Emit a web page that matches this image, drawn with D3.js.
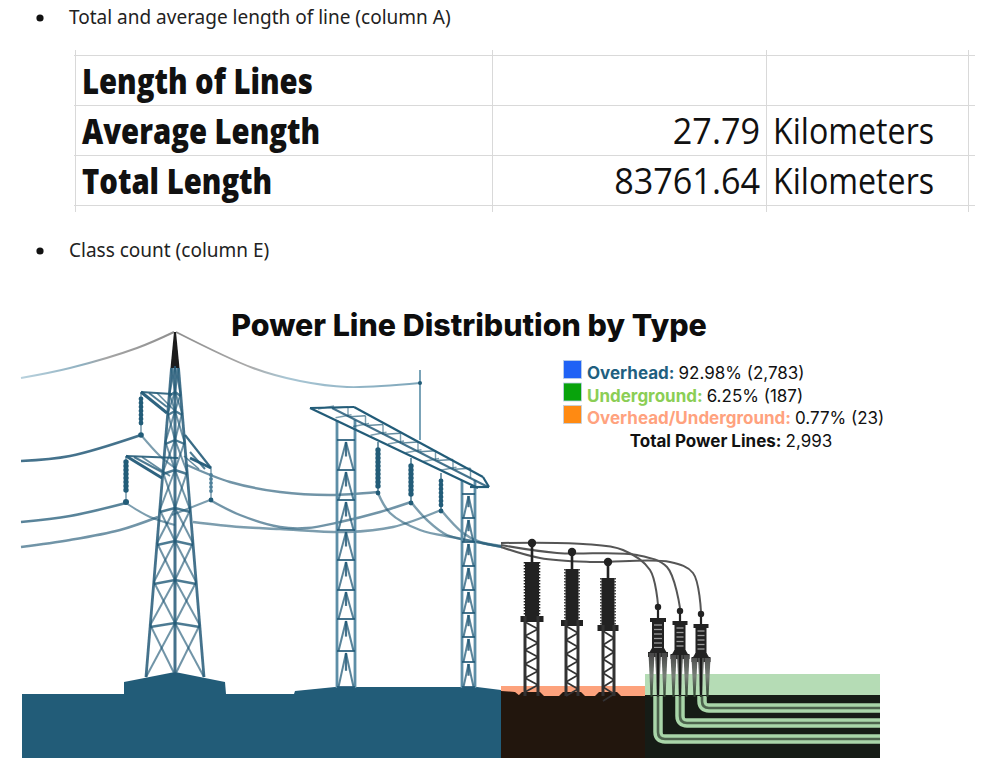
<!DOCTYPE html>
<html>
<head>
<meta charset="utf-8">
<title>Power Line Distribution by Type</title>
<script src="https://cdn.jsdelivr.net/npm/d3@7"></script>
<style>
    html, body { margin: 0; background: #fff; }
    svg { display: block; }
</style>
</head>
<body>
<div id="chart"></div>
<script>
// values
const bulletNotes = ["Total and average length of line (column A)", "Class count (column E)"];
const tableLabels = ["Length of Lines", "Average Length", "Total Length"];
const tableValues = ["", "27.79", "83761.64"];
const tableUnits = ["", "Kilometers", "Kilometers"];

const chartTitle = "Power Line Distribution by Type";
const lineTypes = ["Overhead", "Underground", "Overhead/Underground"];
const typePercents = [92.98, 6.25, 0.77];
const typeCounts = [2783, 187, 23];
const totalLines = 2993;
const totalLabel = "Total Power Lines";

const swatchColors = ["#1f62f5", "#08a30c", "#ff8a12"];
const labelColors = ["#1f5f7f", "#8bce55", "#ffa27e"];

const WIDTH = 986;
const HEIGHT = 773;
const BLUE = "#235b78";
const DARK = "#222222";

const svg = d3.select("#chart")
    .append("svg")
    .attr("width", WIDTH)
    .attr("height", HEIGHT)
    .attr("viewBox", `0 0 ${WIDTH} ${HEIGHT}`);

const defs = svg.append("defs");

// source picture is a soft screenshot
defs.append("filter").attr("id", "soft")
    .attr("x", "-5%").attr("y", "-5%").attr("width", "110%").attr("height", "110%")
    .append("feGaussianBlur").attr("stdDeviation", 0.55);

const addGradient = (id, x1, y1, x2, y2, stops) => {
    const g = defs.append("linearGradient").attr("id", id)
        .attr("gradientUnits", "userSpaceOnUse")
        .attr("x1", x1).attr("y1", y1).attr("x2", x2).attr("y2", y2);
    stops.forEach(s => g.append("stop").attr("offset", s[0]).attr("stop-color", s[1]));
};
addGradient("wireLeft", 21, 0, 175, 0, [[0, "#b9d2de"], [0.4, "#8fb0c0"], [0.55, "#a5a5a5"], [1, "#8f8f8f"]]);
addGradient("wireRight", 177, 0, 420, 0, [[0, "#8f8f8f"], [0.3, "#aaaaaa"], [0.45, "#a9c6d4"], [1, "#7ea6ba"]]);
addGradient("fade", 0, 655, 0, 697, [[0, "#4a4a4a"], [0.5, "#777f77"], [1, "#2b3f2b"]]);

// ---------- text + table ----------
const textFont = "'Open Sans', sans-serif";

const noteY = d3.scaleOrdinal().domain(bulletNotes).range([24, 257]);
svg.selectAll(".note")
    .data(bulletNotes)
    .enter()
    .append("text")
    .attr("class", "note")
    .attr("x", 69)
    .attr("y", d => noteY(d))
    .attr("font-family", "'Noto Sans', sans-serif")
    .attr("font-size", 19)
    .attr("fill", "#222")
    .text(d => d);
svg.selectAll(".dot")
    .data(bulletNotes)
    .enter()
    .append("circle")
    .attr("class", "dot")
    .attr("cx", 40)
    .attr("cy", d => noteY(d) - 6)
    .attr("r", 3.6)
    .attr("fill", "#111");

const rowScale = d3.scaleBand()
    .domain(tableLabels)
    .range([55.5, 205.5]);

const table = svg.append("g").attr("class", "table");
const gridLine = (x1, y1, x2, y2) => table.append("line")
    .attr("x1", x1).attr("y1", y1).attr("x2", x2).attr("y2", y2)
    .attr("stroke", "#d9d9d9").attr("stroke-width", 1);

tableLabels.forEach(d => gridLine(74, rowScale(d), 975, rowScale(d)));
gridLine(74, 205.5, 975, 205.5);
[75.5, 492.5, 766.5, 968.5].forEach(x => gridLine(x, 50, x, 212));

// no narrow font is installed, so the cell text gets squeezed sideways
const rows = table.selectAll(".row")
    .data(tableLabels)
    .enter()
    .append("g")
    .attr("class", "row")
    .attr("transform", d => `translate(0,${rowScale(d) + 38})`)
    .attr("font-family", textFont)
    .attr("font-size", 36)
    .attr("fill", "#111");
rows.append("text")
    .attr("transform", "translate(82,0) scale(0.813,1)")
    .attr("font-weight", 800)
    .text(d => d);
rows.append("text")
    .attr("transform", "translate(760,0) scale(0.95,1)")
    .attr("text-anchor", "end")
    .text((d, i) => tableValues[i]);
rows.append("text")
    .attr("transform", "translate(773,0) scale(0.894,1)")
    .text((d, i) => tableUnits[i]);

// ---------- illustration ----------
const art = svg.append("g").attr("filter", "url(#soft)");

const smooth = d3.line().curve(d3.curveCatmullRom.alpha(0.5));
const wire = (points, color, width, opacity) => art.append("path")
    .attr("d", smooth(points))
    .attr("fill", "none")
    .attr("stroke", color)
    .attr("stroke-width", width)
    .attr("stroke-opacity", opacity === undefined ? 1 : opacity);
const poly = (points, color) => art.append("polygon")
    .attr("points", points.map(p => p.join(",")).join(" "))
    .attr("fill", color);
const seg = (x1, y1, x2, y2, color, width, opacity) => art.append("line")
    .attr("x1", x1).attr("y1", y1).attr("x2", x2).attr("y2", y2)
    .attr("stroke", color).attr("stroke-width", width)
    .attr("stroke-opacity", opacity === undefined ? 1 : opacity);
const box = (x, y, w, h, color) => art.append("rect")
    .attr("x", x).attr("y", y).attr("width", w).attr("height", h).attr("fill", color);
const node = (x, y, r, color) => art.append("circle")
    .attr("cx", x).attr("cy", y).attr("r", r).attr("fill", color);

// insulator string: stack of small beads
const beads = (x, y1, y2, color, r) => {
    d3.range(y1, y2, 4).forEach(y => node(x, y, r, color));
};

// ground blocks
poly([[22, 694], [124, 694], [124, 682], [175, 672], [225, 682], [226, 694], [294, 694], [295, 691],
      [335, 687], [477, 687], [501, 690], [501, 758], [22, 758]], BLUE);
box(501, 686, 144, 12, "#fda27c");
poly([[501, 691], [515, 692], [520, 696], [645, 696], [645, 758], [501, 758]], "#23130e");
[531, 572, 608].forEach(x => poly([[x - 14, 697], [x - 9, 692], [x + 9, 692], [x + 14, 697]], "#23130e"));
box(645, 674, 235, 22, "#b5dcb5");
box(645, 695, 235, 63, "#141b14");

// wires of the first tower and second tower
wire([[21, 378], [70, 368], [137, 348], [174, 332]], "url(#wireLeft)", 2);
wire([[176, 332], [253, 368], [300, 381], [347, 387], [420, 383]], "url(#wireRight)", 1.9);
wire([[21, 461], [70, 456], [141, 435]], BLUE, 2.6, 0.85);
wire([[141, 435], [160, 456], [175, 468]], BLUE, 2, 0.6);
wire([[187, 465], [230, 482], [280, 492], [330, 495], [378, 492]], BLUE, 2.4, 0.65);
wire([[21, 522], [70, 516], [126, 503]], BLUE, 2.6, 0.75);
wire([[126, 503], [150, 517], [175, 525]], BLUE, 2, 0.6);
wire([[172, 515], [210, 500]], BLUE, 2, 0.6);
wire([[210, 500], [240, 515], [280, 527], [307, 528], [340, 522], [380, 512], [411, 502]], BLUE, 2.4, 0.65);
wire([[21, 547], [70, 540], [120, 530], [158, 517]], BLUE, 2.6, 0.65);
wire([[193, 522], [240, 527], [280, 529], [347, 532], [393, 527], [441, 510]], BLUE, 2.4, 0.6);
wire([[378, 493], [390, 513], [420, 530], [457, 538], [502, 547]], BLUE, 2.4, 0.6);
wire([[411, 502], [427, 520], [447, 535], [477, 542], [502, 547]], BLUE, 2.4, 0.6);
wire([[441, 510], [463, 533], [480, 542], [502, 546]], BLUE, 2.4, 0.6);
seg(420, 370, 420, 440, "#6b99b0", 1.8);
node(420, 383, 2, BLUE);

// first tower, legs run from the neck down to the plinth
const towerX = 175;
const legOffset = y => 3.5 + (y - 368) * 25.5 / 309;
const panels = [368, 394, 413, 442, 472, 510, 543, 582, 625, 677];

poly([[towerX - 1, 332], [towerX + 1, 332], [towerX + 4.5, 368], [towerX - 4.5, 368]], "#1b1b1b");
[-1, 1].forEach(side => {
    seg(towerX + side * legOffset(368), 368, towerX + side * legOffset(677), 677, BLUE, 2.8, 0.85);
});
seg(towerX, 368, towerX, 672, BLUE, 3, 0.85);
panels.forEach((y, i) => {
    if (i === panels.length - 1) return;
    const next = panels[i + 1];
    [-1, 1].forEach(side => {
        const a = towerX + side * legOffset(y);
        const b = towerX + side * legOffset(next);
        seg(a, y, towerX, next - 2, BLUE, 2, 0.65);
        seg(towerX, y - 2, b, next, BLUE, 2, 0.65);
        if (i > 0) seg(a, y + 2, towerX, y - 2, BLUE, 2.4, 0.8);
    });
});

// cross arms, two rails to each tip plus a brace
const arms = [
    [[141, 392], [172, 394], [167, 413]],
    [[126, 456], [178, 458], [162, 478]],
    [[211, 468], [185, 435], [190, 458]]
];
arms.forEach(arm => {
    const tip = arm[0];
    const brace = tip[0] < towerX ? 8 : -6;
    seg(tip[0], tip[1], arm[1][0], arm[1][1], BLUE, 2.2, 0.9);
    seg(tip[0], tip[1], arm[2][0], arm[2][1], BLUE, 3, 0.95);
    seg(tip[0] + brace, tip[1] + 1, arm[2][0], arm[2][1] - 6, BLUE, 2, 0.8);
    seg(tip[0] + brace * 2, tip[1] + 1, arm[2][0] + brace, arm[2][1] - 2, BLUE, 1.6, 0.7);
});
seg(141, 392, 141, 433, BLUE, 1.2, 0.8);
beads(141, 399, 426, BLUE, 2.4);
node(141, 435, 2.8, BLUE);
seg(126, 456, 126, 500, BLUE, 1.2, 0.8);
beads(126, 462, 494, BLUE, 2.7);
node(126, 502, 3, BLUE);
seg(211, 468, 211, 498, BLUE, 1.2, 0.8);
beads(211, 475, 494, "#4d7f99", 1.9);
node(211, 500, 2.4, BLUE);

// second tower: two narrow columns under a slanted truss
const column = (x1, x2, top, rungs) => {
    const mid = (x1 + x2) / 2;
    seg(x1, top, x1, 688, "#5d8ea7", 2.8);
    seg(x2, top, x2, 688, "#5d8ea7", 2.8);
    rungs.forEach((y, i) => {
        seg(x1, y, x2, y, BLUE, 2, 0.85);
        if (i === rungs.length - 1) return;
        const next = rungs[i + 1];
        seg(x1 + 1.5, next, mid, y + 2, BLUE, 2, 0.75);
        seg(x2 - 1.5, next, mid, y + 2, BLUE, 2, 0.75);
        seg(mid, y + 2, mid, y + (next - y) * 0.55, BLUE, 2.2, 0.85);
    });
};
column(337, 355, 420, [440, 470, 500, 530, 560, 590, 619, 651, 687]);
column(462, 475, 480, [494, 518, 542, 566, 590, 613, 637, 662, 687]);

seg(310, 408, 478, 488, BLUE, 2.2);
seg(332, 408, 488, 487, BLUE, 2, 0.85);
seg(354, 407, 483, 477, BLUE, 2.2);
seg(310, 408, 354, 407, BLUE, 2.2);
seg(483, 477, 489, 487, BLUE, 2.2);
seg(470, 487, 489, 487, BLUE, 2.2);
d3.range(0, 8).forEach(i => {
    const t = i / 8;
    const ux = 332 + t * 140, uy = 408 + t * 70;
    seg(ux, uy, ux + 16, uy - 1, BLUE, 1.5, 0.7);
    seg(ux - 14, uy + 1, ux + 2, uy - 2, BLUE, 1.4, 0.6);
    seg(ux + 16, uy - 1, ux + 16, uy + 9, BLUE, 1.4, 0.6);
});

[[378, 442, 490, 2.7], [411, 458, 500, 2.7], [441, 473, 508, 2.4]].forEach(s => {
    seg(s[0], s[1], s[0], s[2] + 2, BLUE, 1.4, 0.9);
    beads(s[0], s[1] + 8, s[2] - 2, BLUE, s[3]);
    node(s[0], s[2] + 3, 2.4, BLUE);
});

// underground pipes, thick green with darker core
const pipe = (x, y) => {
    const p = `M${x},696 L${x},${y - 7} Q${x},${y} ${x + 7},${y} L880,${y}`;
    art.append("path").attr("d", p).attr("fill", "none").attr("stroke", "#a9d6a9").attr("stroke-width", 9.5);
    art.append("path").attr("d", p).attr("fill", "none").attr("stroke", "#4d644d").attr("stroke-width", 2.6);
};
pipe(658, 739);
pipe(680, 723);
pipe(702, 708);

// substation wires to the terminals
const cables = [
    [[501, 543], [583, 544], [623, 550], [650, 570], [658, 605]],
    [[501, 545], [557, 553], [637, 555], [667, 567], [680, 608]],
    [[501, 547], [540, 558], [590, 562], [670, 562], [693, 573], [701, 612]]
];
cables.forEach(c => wire(c, "#555555", 2));

// transformers on lattice stands
[[532, 543, 562, 616, 14, 23, 525, 538], [572, 552, 569, 620, 13, 22, 566, 578], [608, 562, 578, 625, 13, 21, 603, 614]]
    .forEach(t => {
        const [x, nodeY, top, bottom, w, flange, leg1, leg2] = t;
        seg(x, nodeY, x, top, DARK, 2.6);
        node(x, nodeY, 4.2, DARK);
        box(x - w / 2, top, w, bottom - top, DARK);
        [-1, 1].forEach(side => {
            seg(x + side * (w / 2 + 0.6), top, x + side * (w / 2 + 0.6), bottom, DARK, 1.4).attr("stroke-dasharray", "1.5 1.5");
        });
        box(x - flange / 2, bottom, flange, 6, DARK);
        seg(leg1, bottom, leg1, 696, "#333", 3);
        seg(leg2, bottom, leg2, 696, "#333", 3);
        d3.range(bottom + 6, 690, 14).forEach(y => {
            seg(leg1, y, leg2, y + 7, "#333", 1.8);
            seg(leg2, y + 7, leg1, y + 14, "#333", 1.8);
        });
    });

// cable terminals above the green band
[[658, 607, 619, 653, 14], [680, 611, 622, 655, 13], [701, 614, 625, 658, 13]]
    .forEach(t => {
        const [x, nodeY, top, bottom, w] = t;
        seg(x, nodeY, x, top, DARK, 2.2);
        node(x, nodeY, 3.2, DARK);
        box(x - w / 2 - 1, top - 1, w + 2, 4, DARK);
        box(x - w / 2 + 1, top, w - 2, bottom - top, DARK);
        d3.range(top + 6, bottom - 5, 4.5).forEach(y => seg(x - w / 2 + 3, y, x + w / 2 - 3, y, "#9a9a9a", 1.3));
        poly([[x - w / 2 + 1, bottom - 5], [x + w / 2 - 1, bottom - 5], [x + w / 2 + 2, bottom], [x - w / 2 - 2, bottom]], DARK);
        box(x - w / 2 - 3, bottom - 1, w + 6, 5, DARK);
        [-6.5, 0, 6.5].forEach(dx => {
            art.append("polygon")
                .attr("points", `${x + dx - 3},${bottom} ${x + dx + 3},${bottom} ${x + dx + 1},697 ${x + dx - 1},697`)
                .attr("fill", "url(#fade)");
        });
        seg(x, bottom, x, 695, "#1c1c1c", 2.2);
    });

// ---------- title + legend ----------
svg.append("text")
    .attr("x", 469)
    .attr("y", 336)
    .attr("text-anchor", "middle")
    .attr("font-family", "Inter, 'Open Sans', sans-serif")
    .attr("font-weight", 800)
    .attr("font-size", 30.4)
    .attr("fill", "#0d0d0d")
    .text(chartTitle);

const legendY = d3.scalePoint()
    .domain(lineTypes)
    .range([379, 424]);

const legend = svg.append("g")
    .attr("font-family", "Inter, 'Open Sans', sans-serif")
    .attr("font-size", 17);

legend.selectAll("rect")
    .data(lineTypes)
    .enter()
    .append("rect")
    .attr("x", 563.5)
    .attr("y", d => legendY(d) - 18.5)
    .attr("width", 18)
    .attr("height", 18)
    .attr("fill", (d, i) => swatchColors[i])
    .attr("stroke", "#bcd0e8")
    .attr("stroke-width", 0.8);

const legendText = legend.selectAll(".legend-row")
    .data(lineTypes)
    .enter()
    .append("text")
    .attr("class", "legend-row")
    .attr("x", 587)
    .attr("y", d => legendY(d));
legendText.append("tspan")
    .attr("font-weight", 700)
    .attr("fill", (d, i) => labelColors[i])
    .text(d => `${d}: `);
legendText.append("tspan")
    .attr("fill", "#111")
    .text((d, i) => `${d3.format(".2f")(typePercents[i])}% (${d3.format(",")(typeCounts[i])})`);

const totalText = legend.append("text")
    .attr("x", 731)
    .attr("y", 447)
    .attr("text-anchor", "middle")
    .attr("fill", "#111");
totalText.append("tspan").attr("font-weight", 700).text(`${totalLabel}: `);
totalText.append("tspan").text(d3.format(",")(totalLines));
</script>
</body>
</html>
